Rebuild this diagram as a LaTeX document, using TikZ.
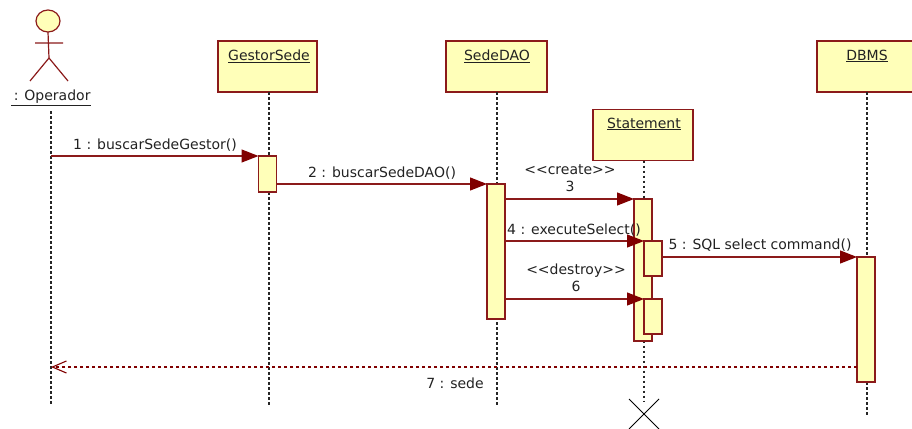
\documentclass[tikz,border=0pt]{standalone}
\usepackage{fontspec}
\setmainfont{DejaVu Sans}
\usetikzlibrary{arrows.meta,shapes.geometric}
\definecolor{ln}{HTML}{8B1A1A}
\definecolor{tip}{HTML}{800000}
\definecolor{fillc}{HTML}{FFFFB9}
\definecolor{txt}{HTML}{222222}
\tikzset{
 x=1pt,y=-1pt,
 obj/.style={draw=ln,fill=fillc,line width=1.3pt,minimum width=#1,minimum height=51pt,inner sep=0pt,outer sep=0pt},
 obj/.default=100pt,
 act/.style={draw=ln,fill=fillc,line width=1.3pt,minimum width=18pt,minimum height=#1,inner sep=0pt,outer sep=0pt},
 lifeline/.style={line width=1.1pt,dash pattern=on 2.5pt off 2.5pt,black!85},
 msg/.style={draw=ln,line width=1.2pt,-{Triangle[length=17pt,width=13pt,color=tip,fill=tip]}},
 ret/.style={draw=tip,line width=1.1pt,dash pattern=on 3pt off 3pt,-{Straight Barb[length=14pt,width=12pt,line width=1.1pt]}},
 lab/.style={text=txt,font=\fontsize{14}{17}\selectfont,inner sep=0pt,align=center},
 oname/.style={text=txt,font=\fontsize{14}{17}\selectfont,inner sep=0pt},
 figure/.style={draw=ln,line width=1.2pt},
}
\begin{document}
\begin{tikzpicture}
\useasboundingbox (0,0) rectangle (912,428);
% objects
\node[obj=99pt] (gestor) at (267.5,66.5) {};
\node[obj=101pt] (dao) at (496.5,66.5) {};
\node[obj=100pt] (stmt) at (643,135) {};
\node[obj=96pt] (dbms) at (865,66.5) {};
\node[oname] (tgestor) at (269,56) {\underline{GestorSede}};
\node[oname] (tdao) at (497,56) {\underline{SedeDAO}};
\node[oname] (tstmt) at (644,124) {\underline{Statement}};
\node[oname] (tdbms) at (867,56) {\underline{DBMS}};
% actor
\node[draw=ln,fill=fillc,line width=1.2pt,ellipse,minimum width=24pt,minimum height=22pt,inner sep=0pt,outer sep=0pt] (head) at (48,21) {};
\coordinate (armL) at (35,43);
\coordinate (armR) at (63,43);
\coordinate (hip) at (49,58);
\coordinate (legL) at (30,81);
\coordinate (legR) at (68,81);
\draw[figure] (head.south) -- (hip) (armL) -- (armR) (legL) -- (hip) -- (legR);
\node[oname] (tactor) at (51,98) {\underline{\,: Operador}};
% lifeline ends
\coordinate (l0a) at (51,111); \coordinate (l0b) at (51,405);
\coordinate (l1b) at (269,405);
\coordinate (l2b) at (497,405);
\coordinate (l3b) at (644,402);
\coordinate (l4b) at (867,415);
\draw[lifeline] (l0a) -- (l0b);
\draw[lifeline] (gestor.south -| l1b) -- (l1b);
\draw[lifeline] (dao.south -| l2b) -- (l2b);
\draw[lifeline] (stmt.south -| l3b) -- (l3b);
\draw[lifeline] (dbms.south -| l4b) -- (l4b);
% activations
\node[act=36pt] (a1) at (267.5,174) {};
\node[act=135pt] (a2) at (496,251.5) {};
\node[act=142pt] (a3) at (643,270) {};
\node[act=35pt] (a4) at (653,258.5) {};
\node[act=35pt] (a5) at (653,316.5) {};
\node[act=125pt] (a6) at (866,319.5) {};
% messages
\coordinate (m1s) at (51,156);
\coordinate (m3s) at (506,199);
\coordinate (m4s) at (506,241);
\coordinate (m6s) at (506,299);
\coordinate (m2s) at (277,184);
\coordinate (m5s) at (663,257);
\coordinate (m7e) at (51,367);
\draw[msg] (m1s) -- (a1.north west);
\draw[msg] (m2s) -- (a2.north west);
\draw[msg] (m3s) -- (a3.north west);
\draw[msg] (m4s) -- (a4.north west);
\draw[msg] (m5s) -- (a6.north west);
\draw[msg] (m6s) -- (a5.north west);
\draw[ret] (a6.west |- m7e) -- (m7e);
% destroy mark
\coordinate (x1) at (629,399); \coordinate (x2) at (659,429);
\coordinate (x3) at (659,399); \coordinate (x4) at (629,429);
\draw[black,line width=1pt] (x1) -- (x2) (x3) -- (x4);
% labels
\node[lab] (t1) at (155,145) {1 : buscarSedeGestor()};
\node[lab] (t2) at (382,173) {2 : buscarSedeDAO()};
\node[lab] (t3) at (570,178) {<{}<create>{}>\\3};
\node[lab] (t4) at (574,230) {4 : executeSelect()};
\node[lab] (t5) at (760,245) {5 : SQL select command()};
\node[lab] (t6) at (576,278) {<{}<destroy>{}>\\6};
\node[lab] (t7) at (455,383) {7 : sede};
\end{tikzpicture}
\end{document}
